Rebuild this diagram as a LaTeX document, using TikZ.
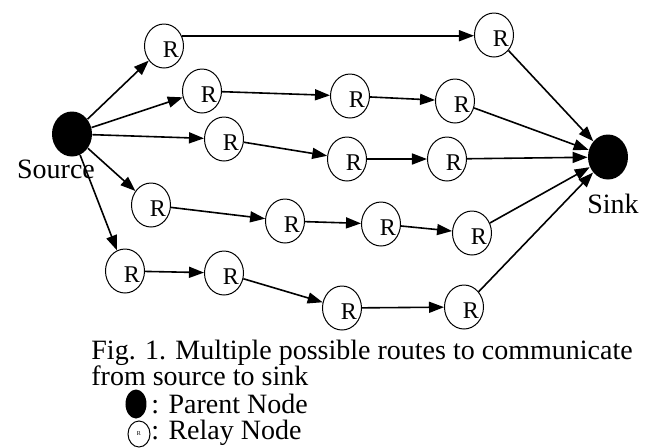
\documentclass[tikz,border=0pt]{standalone}
\usepackage{fontspec}
\setmainfont{Liberation Serif}
\usetikzlibrary{arrows.meta,shapes.geometric}

\begin{document}
\begin{tikzpicture}[
  x=0.5pt, y=-0.5pt,
  font=\fontsize{14}{14}\selectfont,
  relay/.style={draw, ellipse, line width=0.5pt, minimum width=19.5pt, minimum height=22pt, inner sep=0pt,
    label={[font=\fontsize{12}{12}\selectfont, inner sep=0pt, xshift=3.5pt, yshift=-2pt]center:R}},
  parent/.style={fill=black, ellipse, minimum width=20pt, minimum height=22.5pt, inner sep=0pt},
  txt/.style={anchor=base west, inner sep=0pt},
  arr/.style={-{Triangle[length=7.5pt,width=5.5pt]}, line width=0.8pt}
]
  \useasboundingbox (0,0) rectangle (650,447);

  % source and sink
  \node[parent] (src) at (72,134) {};
  \node[parent] (snk) at (608,157) {};
  \node[anchor=base, inner sep=0pt] (srclbl) at (56,178) {Source};
  \node[anchor=base, inner sep=0pt] (snklbl) at (613,213) {Sink};

  % relays, one row per route
  \node[relay] (r11) at (164,46) {};
  \node[relay] (r12) at (494,35) {};

  \node[relay] (r21) at (202,91) {};
  \node[relay] (r22) at (350,96) {};
  \node[relay] (r23) at (455,101) {};

  \node[relay] (r31) at (224,139) {};
  \node[relay] (r32) at (347,159) {};
  \node[relay] (r33) at (447,159) {};

  \node[relay] (r41) at (151,205) {};
  \node[relay] (r42) at (285,221) {};
  \node[relay] (r43) at (381,224) {};
  \node[relay] (r44) at (472,233) {};

  \node[relay] (r51) at (125,271) {};
  \node[relay] (r52) at (224,273) {};
  \node[relay] (r53) at (342,308) {};
  \node[relay] (r54) at (464,307) {};

  \draw[arr] (src) -- (r11);
  \draw[arr] (src) -- (r21);
  \draw[arr] (src) -- (r31);
  \draw[arr] (src) -- (r41);
  \draw[arr] (src) -- (r51);

  % top route runs level with the far relay
  \draw[arr] (r11.30) -- (r11.30 -| r12.west);
  \draw[arr] (r21) -- (r22);
  \draw[arr] (r22) -- (r23);
  \draw[arr] (r31) -- (r32);
  \draw[arr] (r32) -- (r33);
  \draw[arr] (r41) -- (r42);
  \draw[arr] (r42) -- (r43);
  \draw[arr] (r43) -- (r44);
  \draw[arr] (r51) -- (r52);
  \draw[arr] (r52) -- (r53);
  \draw[arr] (r53) -- (r54);

  \draw[arr] (r12) -- (snk);
  \draw[arr] (r23) -- (snk);
  \draw[arr] (r33) -- (snk);
  \draw[arr] (r44) -- (snk);
  \draw[arr] (r54) -- (snk);

  % caption and legend
  \node[txt] (cap1) at (91,359) {Fig. 1. Multiple possible routes to communicate};
  \node[txt] (cap2) at (91,385) {from source to sink};
  \node[fill=black, ellipse, minimum width=10.5pt, minimum height=14.5pt, inner sep=0pt] (legp) at (136,404) {};
  \node[txt] (legptxt) at (151,413) {: Parent Node};
  \node[draw, ellipse, line width=0.5pt, minimum width=11pt, minimum height=13pt, inner sep=0pt,
        font=\fontsize{3}{3}\selectfont] (legr) at (139,434) {R};
  \node[txt] (legrtxt) at (151,439) {: Relay Node};
\end{tikzpicture}
\end{document}
